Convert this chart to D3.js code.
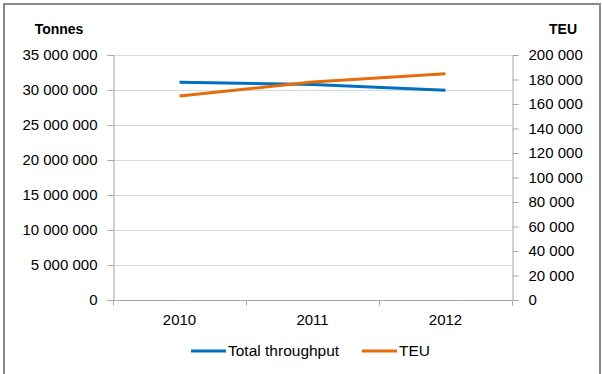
<!DOCTYPE html>
<html><head><meta charset="utf-8">
<script src="https://cdn.jsdelivr.net/npm/d3@7"></script>
<style>body{margin:0;background:#fff;}svg{display:block;}text{font-family:"Liberation Sans",Arial,sans-serif;}</style>
</head><body>
<script>
const years = ["2010", "2011", "2012"];
const tonnes = [31100000, 30800000, 29950000];
const teu = [166500, 178000, 184700];
const leftTicks = [0, 5000000, 10000000, 15000000, 20000000, 25000000, 30000000, 35000000];
const rightTicks = [0, 20000, 40000, 60000, 80000, 100000, 120000, 140000, 160000, 180000, 200000];
const seriesNames = ["Total throughput", "TEU"];
const colors = ["#0070c0", "#e46c0a"];

const W = 602, H = 374;
const m = {l: 113, r: 512, t: 55, b: 300};
const svg = d3.select("body").append("svg").attr("width", W).attr("height", H);
svg.append("rect").attr("x", 4).attr("y", 4).attr("width", 596).attr("height", 380)
  .attr("fill", "#fff").attr("stroke", "#898989").attr("stroke-width", 2);

const x = d3.scaleBand().domain(years).range([m.l, m.r]);
const yL = d3.scaleLinear().domain([0, 35000000]).range([m.b, m.t]);
const yR = d3.scaleLinear().domain([0, 200000]).range([m.b, m.t]);
const fmt = v => d3.format(",")(v).replace(/,/g, " ");

// grid
svg.append("g").selectAll("line").data(leftTicks.filter(d => d > 0)).join("line")
  .attr("x1", m.l).attr("x2", m.r).attr("y1", d => yL(d) + 0.5).attr("y2", d => yL(d) + 0.5)
  .attr("stroke", "#d9d9d9").attr("stroke-width", 1);

const fs = 15;
const gl = svg.append("g").attr("transform", `translate(${m.l + 0.5},0)`)
  .call(d3.axisLeft(yL).tickValues(leftTicks).tickFormat(fmt).tickSize(6).tickPadding(10));
const gr = svg.append("g").attr("transform", `translate(${m.r + 0.5},0)`)
  .call(d3.axisRight(yR).tickValues(rightTicks).tickFormat(fmt).tickSize(6).tickPadding(10));
const gb = svg.append("g").attr("transform", `translate(0,${m.b + 0.5})`)
  .call(d3.axisBottom(x).tickSize(0).tickPadding(14));
gb.select(".domain").attr("d", `M${m.l},0H${m.r}`);
gb.selectAll(".cat").data([m.l, m.l + x.bandwidth(), m.l + 2 * x.bandwidth(), m.r]).join("line")
  .attr("x1", d => d + 0.5).attr("x2", d => d + 0.5).attr("y1", 0).attr("y2", 5).attr("stroke", "#a6a6a6");
[gl, gr, gb].forEach(g => {
  g.selectAll(".domain").attr("stroke", "#a6a6a6");
  g.selectAll(".tick line").attr("stroke", "#a6a6a6");
  g.selectAll("text").attr("font-size", fs).attr("fill", "#000")
    .style("font-family", '"Liberation Sans",Arial,sans-serif');
});

const line = (ys, vals) => d3.line().x((d, i) => x(years[i]) + x.bandwidth() / 2).y(d => ys(d))(vals);
svg.append("path").attr("d", line(yL, tonnes)).attr("fill", "none").attr("stroke", colors[0]).attr("stroke-width", 3);
svg.append("path").attr("d", line(yR, teu)).attr("fill", "none").attr("stroke", colors[1]).attr("stroke-width", 3);

svg.append("text").attr("x", 59).attr("y", 33.5).attr("text-anchor", "middle").attr("font-weight", "bold").attr("font-size", 14).text("Tonnes");
svg.append("text").attr("x", 563).attr("y", 33.5).attr("text-anchor", "middle").attr("font-weight", "bold").attr("font-size", 14).text("TEU");

const leg = [{x: 191, w: 35}, {x: 362, w: 35}];
seriesNames.forEach((n, i) => {
  svg.append("line").attr("x1", leg[i].x).attr("x2", leg[i].x + leg[i].w).attr("y1", 351).attr("y2", 351)
    .attr("stroke", colors[i]).attr("stroke-width", 3);
  svg.append("text").attr("x", leg[i].x + leg[i].w + 2).attr("y", 356).attr("font-size", 15.5).text(n);
});
</script>
</body></html>
